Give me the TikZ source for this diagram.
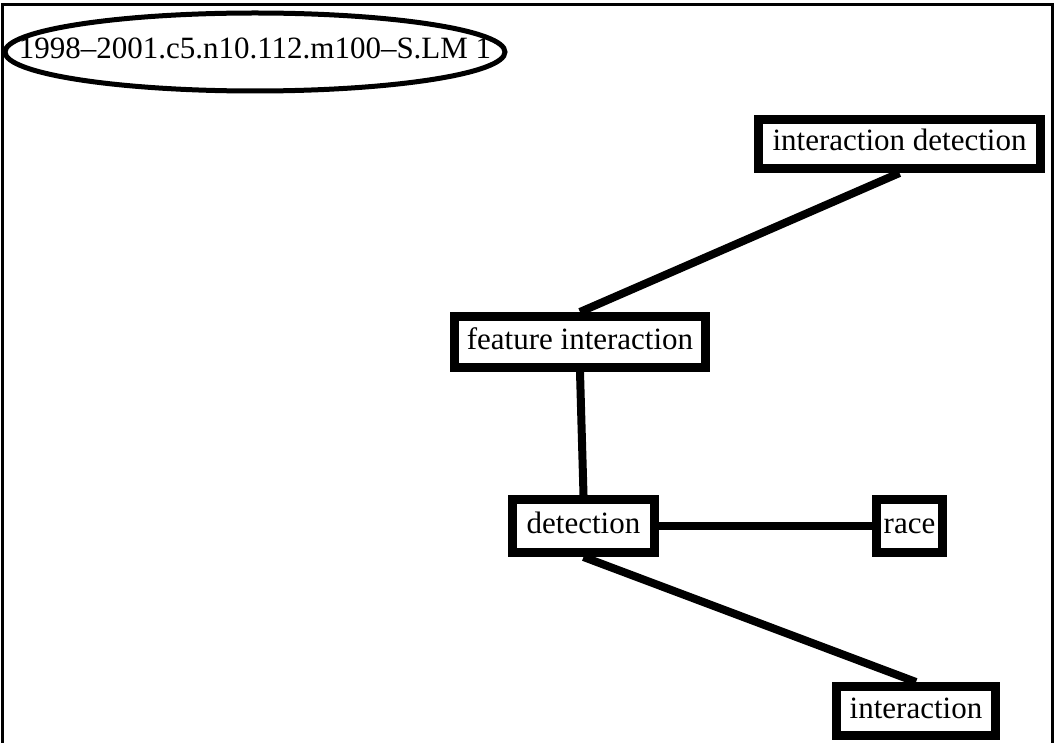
\documentclass[tikz,border=0pt]{standalone}
\usepackage{fontspec}
\setmainfont{Liberation Serif}
\begin{document}
\begin{tikzpicture}[x=1pt,y=-1pt,
  every node/.style={font=\fontsize{31}{36}\selectfont, inner sep=0pt,
    text height=21pt, text depth=7pt},
  termbox/.style={draw=black, line width=9pt, fill=white, rectangle},
  titleoval/.style={draw=black, line width=5pt},
  link/.style={draw=black, line width=8pt}]
  \useasboundingbox (0,0) rectangle (1060,743);
  % frame (open at the bottom)
  \draw[line width=3pt] (2.5,745) -- (2.5,5) -- (1052.5,5) -- (1052.5,745);
  % title label with its oval outline
  \node (title) at (255,52) {1998–2001.c5.n10.112.m100–S.LM 1};
  \draw[titleoval] (title.center) ellipse [x radius=250, y radius=39];
  % terms
  \node[termbox, minimum width=282pt, minimum height=49pt] (idet) at (899.5,144) {interaction detection};
  \node[termbox, minimum width=251pt, minimum height=51pt] (feat) at (580,342) {feature interaction};
  \node[termbox, minimum width=142pt, minimum height=53pt] (det) at (583.5,526) {detection};
  \node[termbox, minimum width=66pt, minimum height=53pt] (race) at (909.5,526) {race};
  \node[termbox, minimum width=159pt, minimum height=49pt] (inter) at (916,711) {interaction};
  % links
  \draw[link] (idet.south) -- (feat.north);
  \draw[link] (feat.south) -- (det.north);
  \draw[link] (det.east) -- (race.west);
  \draw[link] (det.south) -- (inter.north);
\end{tikzpicture}
\end{document}
